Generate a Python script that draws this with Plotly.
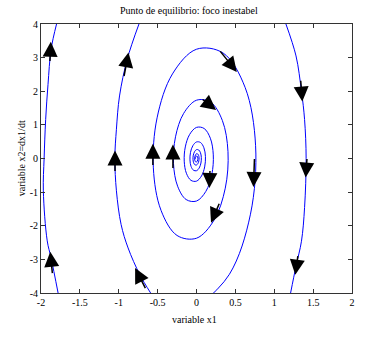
import plotly.graph_objects as go

# ---- data ----
# inner spiral trajectory (clockwise, growing outward from the origin)
spiral_x = [-0.013, -0.012, -0.007, 0.0, 0.008, 0.014,
            0.018, 0.016, 0.010, 0.0, -0.011, -0.020,
            -0.024, -0.022, -0.013, 0.0, 0.015, 0.027,
            0.033, 0.030, 0.018, 0.0, -0.020, -0.037,
            -0.045, -0.041, -0.025, 0.0, 0.028, 0.051,
            0.062, 0.057, 0.035, 0.0, -0.038, -0.070,
            -0.084, -0.077, -0.047, 0.0, 0.052, 0.095,
            0.115, 0.105, 0.064, 0.0, -0.071, -0.130,
            -0.158, -0.144, -0.088, 0.0, 0.098, 0.178,
            0.216, 0.197, 0.120, 0.0, -0.133, -0.243,
            -0.296, -0.270, -0.165, 0.0, 0.183, 0.333,
            0.405, 0.370, 0.225, 0.0, -0.250, -0.456,
            -0.555, -0.507, -0.309, 0.0, 0.342, 0.625,
            0.760, 0.694, 0.423, 0.0]
spiral_y = [-0.006, 0.028, 0.058, 0.075, 0.072, 0.049,
            0.009, -0.038, -0.080, -0.103, -0.100, -0.067,
            -0.012, 0.052, 0.109, 0.141, 0.136, 0.092,
            0.017, -0.072, -0.150, -0.193, -0.187, -0.126,
            -0.023, 0.098, 0.204, 0.264, 0.254, 0.172,
            0.031, -0.135, -0.281, -0.363, -0.350, -0.236,
            -0.042, 0.183, 0.381, 0.492, 0.475, 0.320,
            0.058, -0.251, -0.521, -0.673, -0.650, -0.439,
            -0.079, 0.344, 0.716, 0.925, 0.893, 0.603,
            0.108, -0.471, -0.979, -1.265, -1.221, -0.824,
            -0.148, 0.645, 1.342, 1.733, 1.673, 1.129,
            0.203, -0.883, -1.836, -2.371, -2.289, -1.544,
            -0.278, 1.209, 2.516, 3.250, 3.137, 2.116,
            0.380, -1.656, -3.445, -4.450]

# outer arcs of the same orbit (clipped by the axes)
mid_x = [-0.59, -0.73, -0.88, -0.97, -1.03, -1.05, -1.03, -0.99, -0.89, -0.74]
mid_y = [-4.0, -3.45, -2.66, -1.96, -0.96, 0.0, 0.87, 1.86, 2.96, 4.0]
right_x = [1.15, 1.28, 1.35, 1.39, 1.41, 1.39, 1.35, 1.28, 1.21]
right_y = [4.0, 3.05, 2.0, 1.16, 0.0, -1.46, -2.46, -3.2, -4.0]
left_x = [-1.78, -1.87, -1.92, -1.97, -1.96, -1.94, -1.91, -1.87, -1.80]
left_y = [-4.0, -2.96, -2.45, -0.96, 0.0, 1.16, 2.2, 3.25, 4.0]

# direction arrows (tail -> tip), in data units
arrow_tail_x = [-1.886, -1.852, -0.935, -1.048, -0.648, -0.561, -0.303, 0.290, 0.060, 1.339, 0.746, 1.422, 1.306, 0.174, 0.300]
arrow_tail_y = [2.857, -3.454, 2.409, -0.418, -3.901, -0.239, -0.328, 3.230, 1.790, 2.358, 0.030, 0.030, -2.857, -0.328, -1.300]
arrow_tip_x = [-1.874, -1.881, -0.875, -1.048, -0.790, -0.561, -0.303, 0.519, 0.252, 1.361, 0.733, 1.404, 1.271, 0.165, 0.187]
arrow_tip_y = [3.472, -2.776, 3.155, 0.239, -3.254, 0.439, 0.418, 2.576, 1.442, 1.693, -0.845, -0.567, -3.454, -0.875, -1.910]

x_ticks = [-2, -1.5, -1, -0.5, 0, 0.5, 1, 1.5, 2]
x_ticktext = ["-2", "-1.5", "-1", "-0.5", "0", "0.5", "1", "1.5", "2"]
y_ticks = [-4, -3, -2, -1, 0, 1, 2, 3, 4]
y_ticktext = ["-4", "-3", "-2", "-1", "0", "1", "2", "3", "4"]

title_text = "Punto de equilibrio: foco inestabel"
x_label = "variable x1"
y_label = "variable x2=dx1/dt"

FONT = "Liberation Serif, Times New Roman, serif"
LINE_COL = "#0000ff"

fig = go.Figure()
for xs, ys in [(spiral_x, spiral_y), (mid_x, mid_y), (right_x, right_y), (left_x, left_y)]:
    fig.add_trace(go.Scatter(x=xs, y=ys, mode="lines",
                             line=dict(color=LINE_COL, width=1, shape="spline", smoothing=1.0),
                             hoverinfo="skip", showlegend=False))

for tx, ty, hx, hy in zip(arrow_tail_x, arrow_tail_y, arrow_tip_x, arrow_tip_y):
    fig.add_annotation(x=hx, y=hy, ax=tx, ay=ty, xref="x", yref="y", axref="x", ayref="y",
                       text="", showarrow=True, arrowhead=2, arrowsize=2.0, arrowwidth=1.5,
                       arrowcolor="black", standoff=0, startstandoff=0)

fig.add_annotation(text=title_text, xref="paper", yref="paper", x=0.476, y=1.052,
                   xanchor="center", yanchor="middle", showarrow=False,
                   font=dict(family=FONT, size=10, color="black"))
fig.add_annotation(text=x_label, xref="paper", yref="paper", x=0.4936, y=-0.097,
                   xanchor="center", yanchor="middle", showarrow=False,
                   font=dict(family=FONT, size=10, color="black"))
fig.add_annotation(text=y_label, xref="paper", yref="paper", x=-0.062, y=0.5,
                   xanchor="center", yanchor="middle", showarrow=False, textangle=-90,
                   font=dict(family=FONT, size=10, color="black"))

axis_common = dict(ticks="inside", ticklen=4, tickcolor="#333", tickwidth=1,
                   showline=True, linecolor="#333", linewidth=1, mirror="ticks",
                   showgrid=False, zeroline=False,
                   tickfont=dict(family=FONT, size=10, color="black"))
fig.update_layout(
    width=367, height=343,
    margin=dict(l=41, r=15, t=24, b=50),
    paper_bgcolor="white", plot_bgcolor="white",
    hovermode=False,
    xaxis=dict(range=[-2, 2], tickvals=x_ticks, ticktext=x_ticktext, **axis_common),
    yaxis=dict(range=[-4, 4], tickvals=y_ticks, ticktext=y_ticktext, **axis_common),
)
# remove the browser's default 8px body margin so the figure fills the window
fig.write_html("out.html", config={"displayModeBar": False},
               post_script="document.body.style.margin='0px';")
